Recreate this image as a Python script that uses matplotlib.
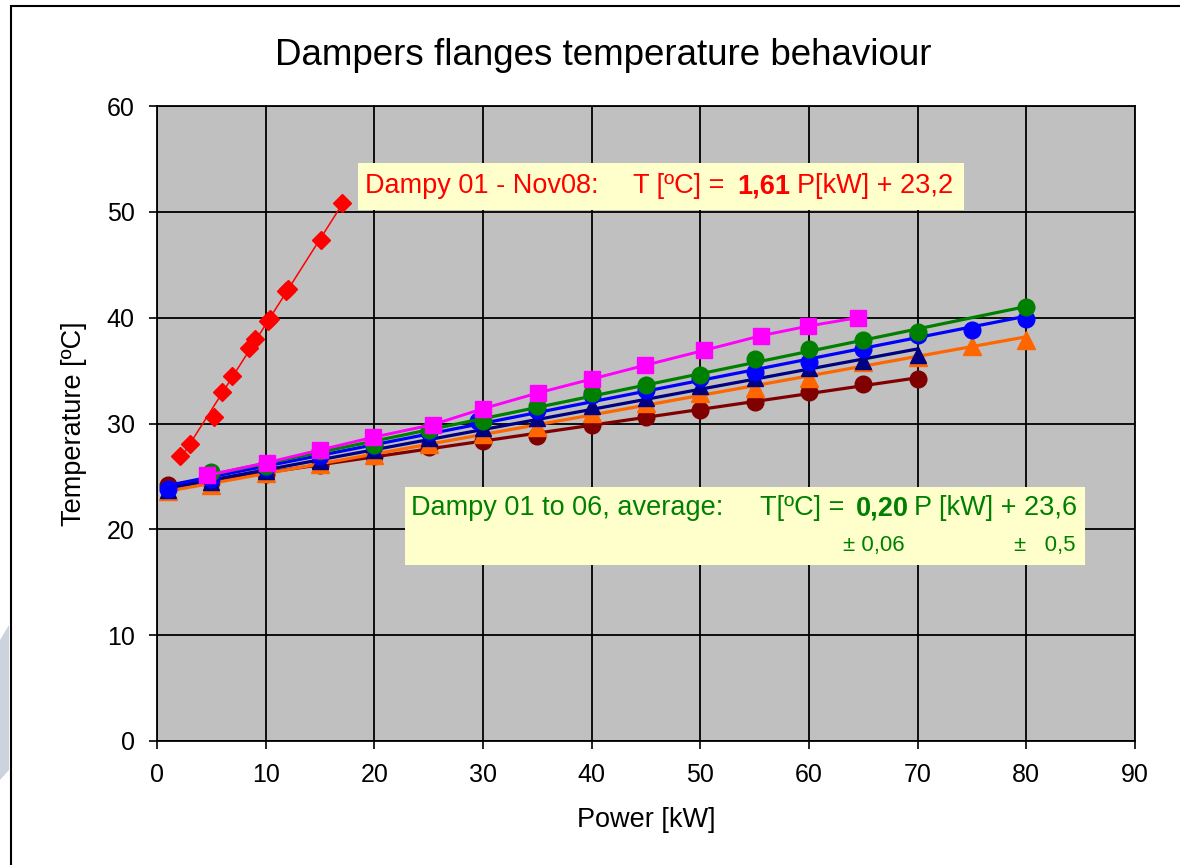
import numpy as np
import matplotlib.pyplot as plt
from matplotlib.patches import Rectangle, Polygon

plt.rcParams['font.family'] = ['Liberation Sans', 'DejaVu Sans']

# Dampy 01 - Nov08 (red diamonds)
red_x = [2.1, 3.0, 5.2, 6.0, 6.9, 8.5, 9.0, 10.2, 10.4, 11.9, 12.1, 15.1, 17.0]
red_y = [26.9, 28.1, 30.6, 33.0, 34.5, 37.1, 38.0, 39.7, 39.9, 42.5, 42.7, 47.3, 50.8]

maroon_x = [1, 5, 10, 15, 20, 25, 30, 35, 40, 45, 50, 55, 60, 65, 70]
maroon_y = [24.2, 24.5, 25.2, 26.1, 26.9, 27.8, 28.3, 28.8, 29.9, 30.6, 31.3, 32.0, 33.0, 33.7, 34.2]

orange_x = [1, 5, 10, 15, 20, 25, 30, 35, 40, 45, 50, 55, 60, 65, 70, 75, 80]
orange_y = [23.6, 24.2, 25.3, 26.2, 27.0, 28.1, 29.0, 29.7, 31.0, 31.9, 32.9, 33.4, 34.3, 35.8, 36.3, 37.3, 37.9]

navy_x = [1, 5, 10, 15, 20, 25, 30, 35, 40, 45, 50, 55, 60, 65, 70]
navy_y = [23.7, 24.5, 25.5, 26.5, 27.5, 28.6, 29.6, 30.5, 31.7, 32.4, 33.5, 34.3, 35.2, 35.9, 36.5]

blue_x = [1, 5, 10, 15, 20, 25, 29.5, 35, 40, 45, 50, 55, 60, 65, 70, 75, 80]
blue_y = [23.8, 24.8, 25.8, 26.9, 27.9, 29.2, 30.2, 31.3, 32.7, 33.2, 34.3, 34.9, 35.8, 37.0, 38.4, 38.8, 39.9]

green_x = [5, 10, 15, 20, 25, 30, 35, 40, 45, 50, 55, 60, 65, 70, 80]
green_y = [25.4, 26.0, 27.4, 28.0, 29.4, 30.2, 31.7, 32.9, 33.6, 34.6, 36.1, 37.0, 37.9, 38.6, 41.0]

magenta_x = [4.6, 10.1, 15, 19.9, 25.4, 30, 35.1, 40, 44.9, 50.3, 55.6, 59.9, 64.5]
magenta_y = [25.1, 26.3, 27.5, 28.7, 29.9, 31.4, 32.9, 34.2, 35.5, 36.9, 38.3, 39.2, 40.0]

fig = plt.figure(figsize=(11.8, 8.65), dpi=100)
ax = fig.add_axes([157 / 1180, 1 - 741 / 865, 978 / 1180, 635 / 865])
ax.set_facecolor('#C0C0C0')


def fit_series(x, y, color, marker, ms, lw, z):
    # trend line over the data range, like the spreadsheet's linear fit
    k, b = np.polyfit(x, y, 1)
    xs = np.array([min(x), max(x)])
    ax.plot(xs, k * xs + b, color=color, lw=lw, zorder=z)
    ax.plot(x, y, ls='none', marker=marker, ms=ms, color=color, zorder=z)


fit_series(maroon_x, maroon_y, '#800000', 'o', 12, 2.3, 3)
fit_series(orange_x, orange_y, '#FF6600', '^', 13, 2.3, 4)
fit_series(navy_x, navy_y, '#000080', '^', 11, 2.3, 5)
fit_series(blue_x, blue_y, '#0000FF', 'o', 12, 2.3, 6)
fit_series(green_x, green_y, '#008000', 'o', 12, 2.3, 7)
ax.plot(magenta_x, magenta_y, color='#FF00FF', lw=2.1, marker='s', ms=11, zorder=8)
fit_series(red_x, red_y, '#FF0000', 'D', 9.5, 1.1, 9)

ax.set_xlim(0, 90)
ax.set_ylim(0, 60)
ax.set_xticks(range(0, 91, 10))
ax.set_yticks(range(0, 61, 10))
ax.grid(True, color='black', lw=1.3, zorder=1)
ax.set_axisbelow(True)
ax.tick_params(direction='out', length=6, width=1.2, labelsize=18, pad=10)
for s in ax.spines.values():
    s.set_linewidth(1.3)
ax.set_xlabel('Power [kW]', fontsize=19.5, labelpad=14)
ax.set_ylabel('Temperature [ºC]', fontsize=19.5, labelpad=14)

fig.text(0.511, 0.936, 'Dampers flanges temperature behaviour', fontsize=26.5,
         ha='center', va='center')

# red equation box
ax.add_patch(Rectangle((18.5, 50.2), 55.8, 4.4, facecolor='#FFFFCC',
                       edgecolor='none', zorder=10))
rc = '#FF0000'
fs = 19.5
ty = 52.4
ax.text(19.1, ty, 'Dampy 01 - Nov08:', color=rc, fontsize=fs, va='center', zorder=11)
ax.text(43.8, ty, 'T [ºC] =', color=rc, fontsize=fs, va='center', zorder=11)
ax.text(53.4, ty, '1,61', color=rc, fontsize=fs, fontweight='bold', va='center', zorder=11)
ax.text(58.9, ty, 'P[kW] + 23,2', color=rc, fontsize=fs, va='center', zorder=11)

# green equation box
gc = '#008000'
ax.add_patch(Rectangle((22.8, 16.6), 62.6, 7.4, facecolor='#FFFFCC',
                       edgecolor='none', zorder=10))
ty = 22.0
ax.text(23.4, ty, 'Dampy 01 to 06, average:', color=gc, fontsize=fs, va='center', zorder=11)
ax.text(55.5, ty, 'T[ºC] =', color=gc, fontsize=fs, va='center', zorder=11)
ax.text(64.3, ty, '0,20', color=gc, fontsize=fs, fontweight='bold', va='center', zorder=11)
ax.text(69.7, ty, 'P [kW] + 23,6', color=gc, fontsize=fs, va='center', zorder=11)
ax.text(63.1, 18.5, '± 0,06', color=gc, fontsize=16, va='center', zorder=11)
ax.text(78.9, 18.5, '±   0,5', color=gc, fontsize=16, va='center', zorder=11)

# outer frame of the chart object
fig.add_artist(Rectangle((11 / 1180, -0.01), 1.0, 1 - 6 / 865 + 0.01,
                         transform=fig.transFigure, fill=False,
                         edgecolor='black', lw=1.5))
fig.add_artist(Polygon([(0, 1 - 640 / 865), (9 / 1180, 1 - 625 / 865),
                        (9 / 1180, 1 - 770 / 865), (0, 1 - 780 / 865)],
                       closed=True, transform=fig.transFigure,
                       facecolor='#CDD3DE', edgecolor='none'))

fig.savefig('out.png', dpi=100)
